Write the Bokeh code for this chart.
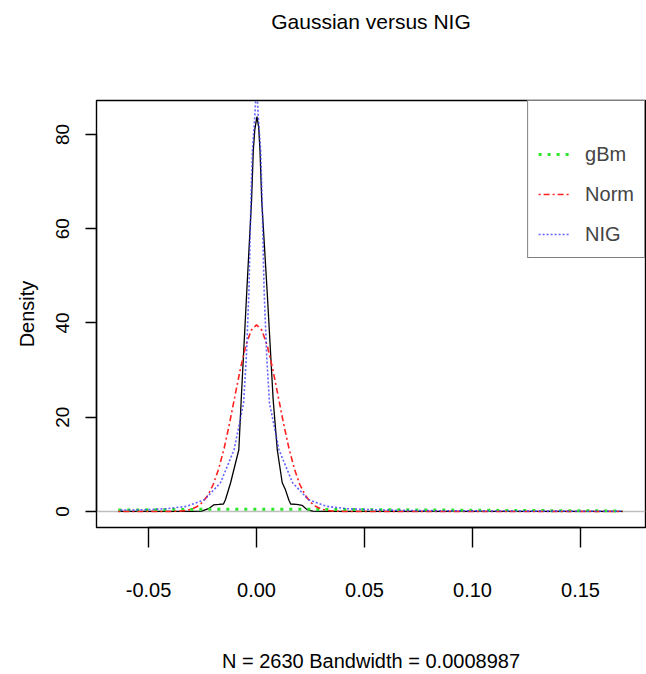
from bokeh.plotting import figure
from bokeh.models import Range1d, LinearAxis, FixedTicker, Span, Legend, LegendItem
from bokeh.embed import file_html
from bokeh.resources import INLINE

# ---------------- data ----------------
title_text = "Gaussian versus NIG"
x_label = "N = 2630 Bandwidth = 0.0008987"
y_label = "Density"

x_ticks = [-0.05, 0.00, 0.05, 0.10, 0.15]
x_tick_labels = ["-0.05", "0.00", "0.05", "0.10", "0.15"]
y_ticks = [0, 20, 40, 60, 80]
y_tick_labels = ["0", "20", "40", "60", "80"]

# kernel density of the data (black)
kde_x = [-0.0640, -0.0450, -0.0300, -0.0255, -0.0222, -0.0199, -0.0175, -0.0153,
         -0.0144, -0.0120, -0.0082, -0.0071, -0.0046, -0.0023, -0.0015, -0.0008,
         0.0002, 0.0010, 0.0016, 0.0024, 0.0050, 0.0077, 0.0096, 0.0119, 0.0134,
         0.0150, 0.0158, 0.0185, 0.0212, 0.0234, 0.0260, 0.0320, 0.0600, 0.1000, 0.1695]
kde_y = [0.02, 0.03, 0.05, 0.1, 0.6, 1.4, 1.5, 1.6,
         2.5, 6.1, 13.1, 23.7, 46.0, 66.0, 76.6, 81.0,
         83.8, 81.5, 76.6, 66.0, 46.0, 23.7, 13.1, 6.1, 4.6,
         2.4, 1.6, 1.5, 1.3, 0.4, 0.1, 0.05, 0.03, 0.02, 0.02]

# gBm (green)
gbm_x = [-0.0640, -0.0300, 0.0000, 0.0300, 0.0700, 0.1200, 0.1695]
gbm_y = [0.30, 0.45, 0.50, 0.45, 0.35, 0.22, 0.12]

# Normal (red)
norm_x = [-0.0640, -0.0500, -0.0400, -0.0350, -0.0325, -0.0300, -0.0275, -0.0250,
          -0.0225, -0.0200, -0.0175, -0.0150, -0.0125, -0.0100, -0.0075, -0.0050,
          -0.0025, 0.0000, 0.0025, 0.0050, 0.0075, 0.0100, 0.0125, 0.0150, 0.0175,
          0.0200, 0.0225, 0.0250, 0.0275, 0.0300, 0.0325, 0.0350, 0.0400, 0.0500,
          0.1000, 0.1695]
norm_y = [0.0, 0.0, 0.018, 0.11, 0.25, 0.52, 1.05, 1.96,
          3.47, 5.79, 9.09, 13.43, 18.69, 24.50, 30.23, 35.12,
          38.43, 39.6, 38.43, 35.12, 30.23, 24.50, 18.69, 13.43, 9.09,
          5.79, 3.47, 1.96, 1.05, 0.52, 0.25, 0.11, 0.018, 0.0,
          0.0, 0.0]

# NIG (blue)
nig_x = [-0.0630, -0.0556, -0.0500, -0.0417, -0.0324, -0.0241, -0.0167, -0.0104,
         -0.0060, -0.0047, -0.0035, -0.0026, -0.0019, -0.0008, 0.0000, 0.0008,
         0.0019, 0.0026, 0.0035, 0.0047, 0.0060, 0.0104, 0.0167, 0.0241, 0.0324,
         0.0417, 0.0556, 0.0740, 0.1160, 0.1695]
nig_y = [0.30, 0.35, 0.40, 0.60, 1.10, 2.50, 6.10, 13.10,
         23.0, 33.0, 47.0, 66.0, 76.6, 83.8, 91.0, 83.8,
         76.6, 66.0, 47.0, 33.0, 23.0, 13.10, 6.10, 2.50, 1.10,
         0.60, 0.35, 0.20, 0.10, 0.05]

FONT = "Liberation Sans"

p = figure(width=646, height=674, output_backend="svg", toolbar_location=None,
           x_range=Range1d(-0.0741, 0.1801), y_range=Range1d(-3.39, 87.2),
           x_axis_type=None, y_axis_type=None,
           min_border_left=96, min_border_right=1, min_border_top=100, min_border_bottom=146)
p.xgrid.visible = False
p.ygrid.visible = False
p.outline_line_color = "black"
p.outline_line_width = 1.4
p.background_fill_color = "white"
p.border_fill_color = "white"

# main title, drawn as the label of an otherwise invisible top axis
top_axis = LinearAxis(ticker=FixedTicker(ticks=[]), axis_line_color=None,
                      major_tick_line_color=None, minor_tick_line_color=None,
                      major_tick_out=0, major_label_text_font_size="0px",
                      axis_label=title_text, axis_label_text_font=FONT,
                      axis_label_text_font_size="21px", axis_label_text_font_style="normal",
                      axis_label_standoff=68, axis_label_text_color="black")
p.add_layout(top_axis, "above")

xaxis = LinearAxis(ticker=FixedTicker(ticks=x_ticks), bounds=(-0.05, 0.15),
                   major_label_overrides={t: l for t, l in zip(x_ticks, x_tick_labels)},
                   major_tick_out=20, major_tick_in=0, minor_tick_line_color=None,
                   axis_line_width=1.4, major_tick_line_width=1.4,
                   major_label_text_font=FONT, major_label_text_font_size="20px",
                   major_label_standoff=35, major_label_text_color="black",
                   axis_label=x_label, axis_label_text_font=FONT,
                   axis_label_text_font_size="20px", axis_label_text_font_style="normal",
                   axis_label_standoff=50, axis_label_text_color="black")
p.add_layout(xaxis, "below")

yaxis = LinearAxis(ticker=FixedTicker(ticks=y_ticks), bounds=(0, 80),
                   major_label_overrides={t: l for t, l in zip(y_ticks, y_tick_labels)},
                   major_tick_out=11, major_tick_in=0, minor_tick_line_color=None,
                   axis_line_width=1.4, major_tick_line_width=1.4,
                   major_label_text_font=FONT, major_label_text_font_size="19px",
                   major_label_standoff=16, major_label_orientation="vertical",
                   major_label_text_color="black",
                   axis_label=y_label, axis_label_text_font=FONT,
                   axis_label_text_font_size="20px", axis_label_text_font_style="normal",
                   axis_label_standoff=16, axis_label_text_color="black")
p.add_layout(yaxis, "left")

p.add_layout(Span(location=0, dimension="width", line_color="#bebebe", line_width=1.6,
                  level="underlay"))

p.line(kde_x, kde_y, line_color="black", line_width=1.3)
r_g = p.line(gbm_x, gbm_y, line_color="#2ee62e", line_width=3, line_dash="3 6")
r_n = p.line(norm_x, norm_y, line_color="#ff2020", line_width=1.6, line_dash="2 3 6 3")
r_b = p.line(nig_x, nig_y, line_color="#3a3aff", line_width=1.6, line_dash="2 2",
             line_alpha=0.8)

legend = Legend(items=[LegendItem(label="gBm", renderers=[r_g]),
                       LegendItem(label="Norm", renderers=[r_n]),
                       LegendItem(label="NIG", renderers=[r_b])],
                location="top_right", margin=0, padding=10, spacing=14,
                glyph_width=31, glyph_height=26, label_standoff=16,
                label_text_font=FONT, label_text_font_size="20px",
                title=" ", title_text_font_size="14px", title_standoff=14,
                border_line_color="black", border_line_width=1.5,
                background_fill_color="white", background_fill_alpha=1.0)
p.add_layout(legend)

open("out.html", "w").write(file_html(p, INLINE))
